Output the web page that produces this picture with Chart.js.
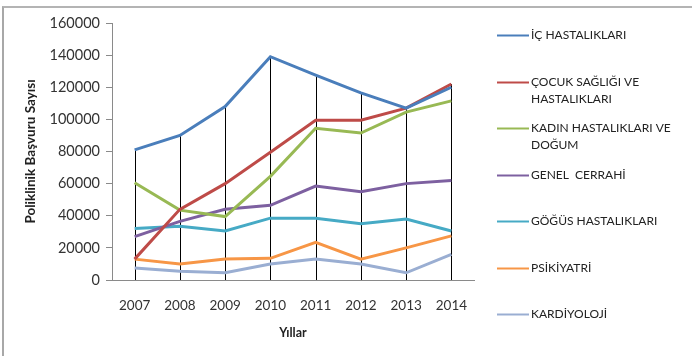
<!DOCTYPE html>
<html>
<head>
<meta charset="utf-8">
<script src="https://cdn.jsdelivr.net/npm/chart.js@4/dist/chart.umd.min.js"></script>
<style>
  html, body { margin: 0; padding: 0; background: #fff; overflow: hidden; }
  #wrap { position: relative; width: 692px; height: 356px; }
  #frame { position: absolute; left: 2px; top: 6px; width: 800px; height: 400px;
           border-left: 2px solid #a8a8a8; border-top: 2px solid #b4b4b4; }
  canvas { position: absolute; left: 0; top: 0; }
</style>
</head>
<body>
<div id="wrap">
  <div id="frame"></div>
  <canvas id="canvas" width="692" height="356"></canvas>
</div>
<script>
const years = ['2007', '2008', '2009', '2010', '2011', '2012', '2013', '2014'];

const seriesNames = [
  'İÇ HASTALIKLARI',
  'ÇOCUK SAĞLIĞI VE\nHASTALIKLARI',
  'KADIN HASTALIKLARI VE\nDOĞUM',
  'GENEL  CERRAHİ',
  'GÖĞÜS HASTALIKLARI',
  'PSİKİYATRİ',
  'KARDİYOLOJİ'
];

const icHastaliklari    = [81000, 90000, 108000, 139000, 127500, 116500, 107000, 120000];
const cocukSagligi      = [13000, 44000, 60000, 79500, 99500, 99500, 107000, 122000];
const kadinHastaliklari = [60500, 43500, 39500, 64500, 94500, 91500, 104500, 111500];
const genelCerrahi      = [27000, 36500, 44000, 46500, 58500, 55000, 60000, 62000];
const gogusHastaliklari = [32000, 33500, 30500, 38500, 38500, 35000, 38000, 30500];
const psikiyatri        = [13000, 10000, 13000, 13500, 23500, 13000, 20000, 27500];
const kardiyoloji       = [7500, 5500, 4500, 10000, 13000, 10000, 4500, 16000];

const yMax = 160000;
const yStep = 20000;

const colors = ['#4a7ebb', '#be4b48', '#98b954', '#7d60a0', '#46aac5', '#f79646', '#9aaed2'];
const allSeries = [icHastaliklari, cocukSagligi, kadinHastaliklari, genelCerrahi,
                   gogusHastaliklari, psikiyatri, kardiyoloji];

const FONT = 'Lato';

// vertical lines from the highest value of each year down to the axis
const dropLines = {
  id: 'dropLines',
  beforeDatasetsDraw(chart) {
    const ctx = chart.ctx;
    const x = chart.scales.x, y = chart.scales.y;
    ctx.save();
    ctx.strokeStyle = '#000';
    ctx.lineWidth = 1;
    years.forEach((yr, i) => {
      const top = Math.max(...chart.data.datasets.map(d => d.data[i]));
      const px = Math.round(x.getPixelForValue(i)) + 0.5;
      ctx.beginPath();
      ctx.moveTo(px, y.getPixelForValue(top));
      ctx.lineTo(px, y.getPixelForValue(0));
      ctx.stroke();
    });
    ctx.restore();
  }
};

// legend on the right
const sideLegend = {
  id: 'sideLegend',
  afterDraw(chart) {
    const ctx = chart.ctx;
    ctx.save();
    ctx.font = '12px ' + FONT;
    ctx.textBaseline = 'middle';
    ctx.fillStyle = '#222';
    chart.data.datasets.forEach((ds, i) => {
      const yc = Math.round(35 + i * 46.5);
      ctx.strokeStyle = ds.borderColor;
      ctx.lineWidth = 2;
      ctx.beginPath();
      ctx.moveTo(497, yc + 0.5);
      ctx.lineTo(529, yc + 0.5);
      ctx.stroke();
      ds.label.split('\n').forEach((line, k) => {
        ctx.fillText(line, 531, yc + k * 17.5);
      });
    });
    ctx.restore();
  }
};

new Chart(document.getElementById('canvas'), {
  type: 'line',
  data: {
    labels: years,
    datasets: allSeries.map((vals, i) => ({
      label: seriesNames[i],
      data: vals,
      borderColor: colors[i],
      backgroundColor: colors[i],
      borderWidth: 3,
      pointRadius: 0,
      tension: 0,
      fill: false
    }))
  },
  options: {
    responsive: false,
    animation: false,
    layout: { padding: { left: 0, right: 218, top: 23, bottom: 0 } },
    plugins: { legend: { display: false }, tooltip: { enabled: false } },
    scales: {
      x: {
        offset: true,
        grid: { drawOnChartArea: false, drawTicks: false },
        border: { color: '#8a8a8a' },
        ticks: { color: '#333', font: { family: FONT, size: 13.5 }, padding: 18 },
        title: { display: true, text: 'Yıllar', color: '#222',
                 font: { family: FONT, size: 12.5, weight: 'bold' }, padding: { top: 0, bottom: 16 } },
        afterFit(scale) { scale.height = 76; }
      },
      y: {
        min: 0,
        max: yMax,
        grid: { drawOnChartArea: false, tickLength: 6, color: '#8a8a8a' },
        border: { color: '#8a8a8a' },
        ticks: { stepSize: yStep, color: '#333', font: { family: FONT, size: 14.5 }, padding: 6,
                 callback: v => String(v) },
        title: { display: true, text: 'Poliklinik Başvuru Sayısı', color: '#222',
                 font: { family: FONT, size: 13.5, weight: 'bold' }, padding: { top: 23, bottom: 0 } },
        afterFit(scale) { scale.width = 112; }
      }
    }
  },
  plugins: [dropLines, sideLegend]
});
</script>
</body>
</html>
